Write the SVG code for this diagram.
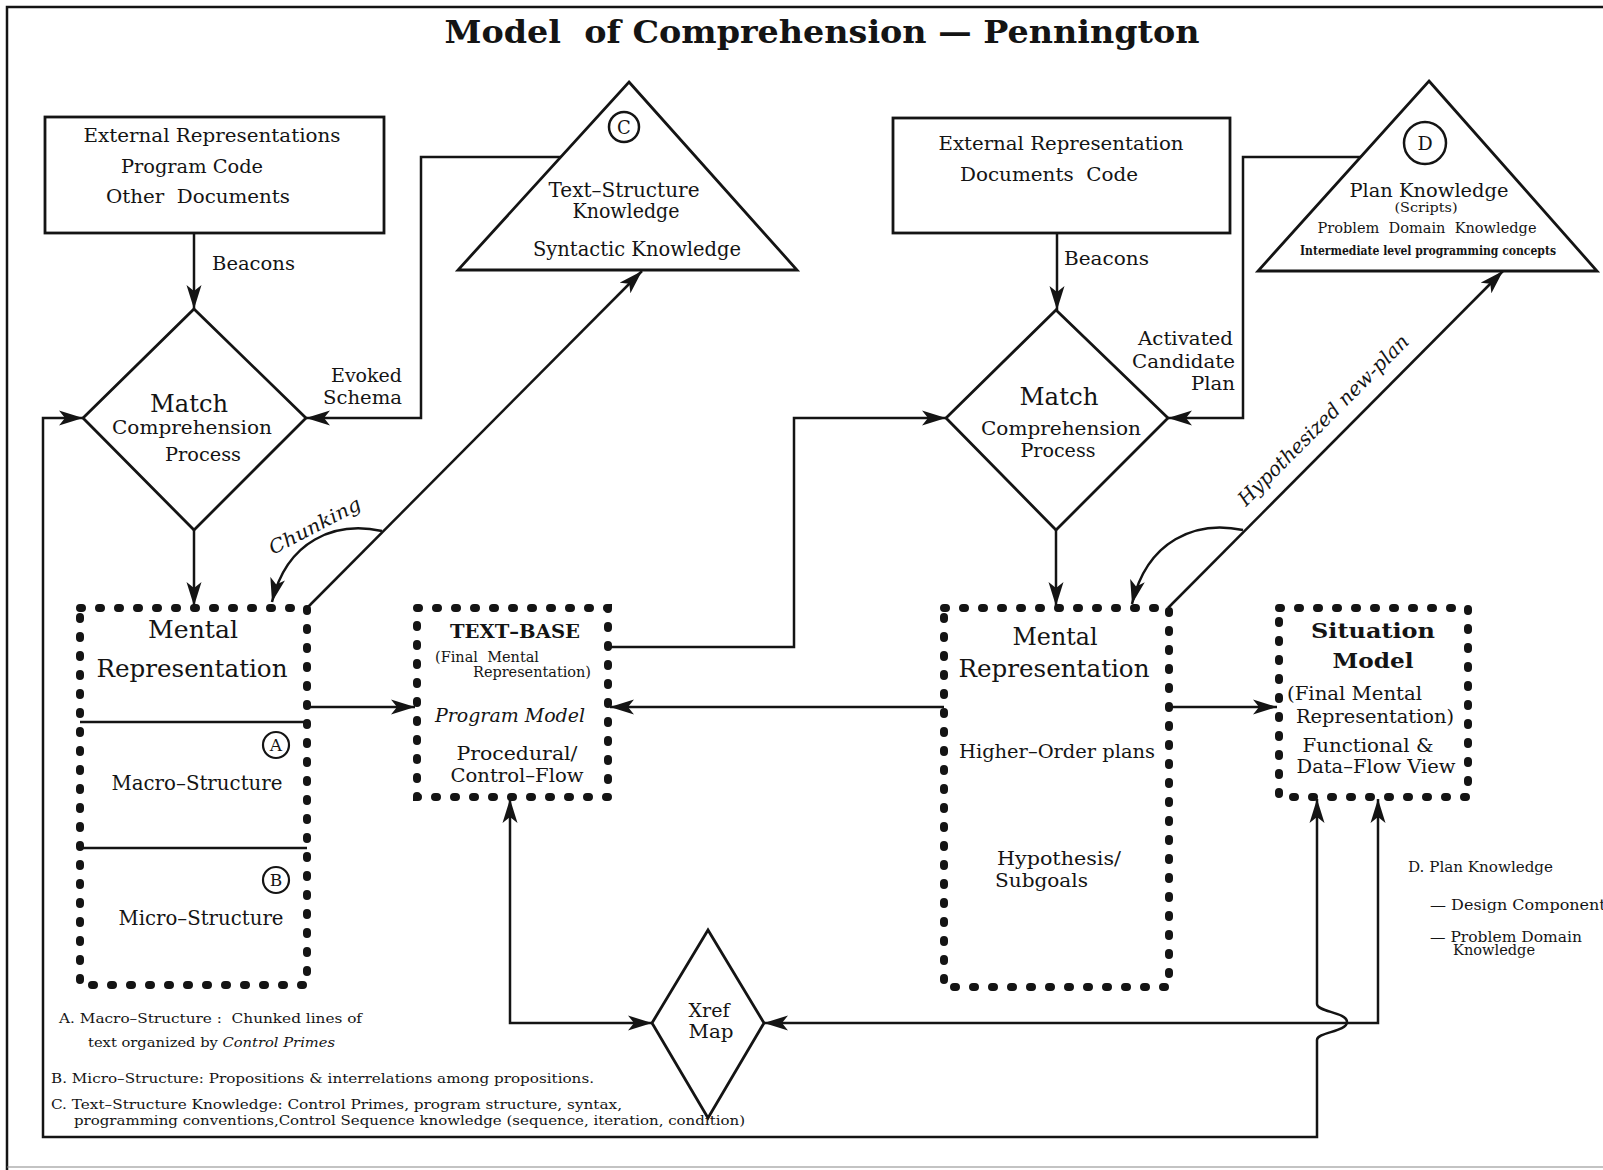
<svg xmlns="http://www.w3.org/2000/svg" width="1603" height="1170" viewBox="0 0 1603 1170">
<defs>
<style>
.t{font-family:"DejaVu Serif","Liberation Serif",serif;fill:#141414}
.m{text-anchor:middle}
.e{text-anchor:end}
.b{font-weight:bold}
.i{font-style:italic}
.ln{fill:none;stroke:#141414;stroke-width:2.5}
.box{fill:#fff;stroke:#141414;stroke-width:2.8}
.dot{fill:#fff;stroke:#141414;stroke-width:8;stroke-linecap:round;stroke-dasharray:2 17}
.sep{stroke:#141414;stroke-width:2.5}
.arw{marker-end:url(#ah)}
.arw2{marker-start:url(#ah);marker-end:url(#ah)}
</style>
<marker id="ah" markerUnits="userSpaceOnUse" markerWidth="26" markerHeight="16" refX="24" refY="8" orient="auto-start-reverse" viewBox="0 0 26 16">
<path d="M0,0.5 L24,8 L0,15.5 L6,8 Z" fill="#141414"/>
</marker>
</defs>

<rect x="0" y="0" width="1603" height="1170" fill="#fff"/>

<!-- page frame -->
<g id="frame" fill="none" stroke="#141414">
<path d="M1603 7 H7 V1170" stroke-width="2.5"/>
<path d="M7 1167 H1603" stroke-width="1.2" stroke="#888"/>
</g>

<text class="t b m" x="822" y="43" font-size="32" textLength="755" lengthAdjust="spacingAndGlyphs">Model&#160; of Comprehension — Pennington</text>

<!-- connectors -->
<g id="connectors">
<path class="ln arw" d="M194 233 V309"/>
<path class="ln arw" d="M1057 233 V310"/>
<path class="ln arw" d="M561 157 H421 V418 H306"/>
<path class="ln arw" d="M1361 157 H1243 V418 H1168"/>
<path class="ln arw" d="M194 530 V606"/>
<path class="ln arw" d="M1056 530 V606"/>
<path class="ln arw" d="M307 608 L642 271"/>
<path class="ln arw" d="M382 531 C335 521 287 540 272 602"/>
<path class="ln arw" d="M1168 608 L1503 271"/>
<path class="ln arw" d="M1243 530 C1196 520 1147 540 1132 604"/>
<path class="ln arw" d="M307 707 H415"/>
<path class="ln arw" d="M944 707 H610"/>
<path class="ln arw" d="M608 647 H794 V418 H946"/>
<path class="ln arw" d="M1169 707 H1277"/>
<path class="ln arw2" d="M652 1023 H510 V799"/>
<path class="ln arw2" d="M764 1023 H1378 V799"/>
<path class="ln arw2" d="M83 418 H43 V1137 H1317 V1040 C1317 1032 1347 1032 1347 1022 C1347 1012 1317 1012 1317 1004 V799"/>
</g>

<!-- connector labels -->
<g id="labels">
<text class="t" x="212" y="270" font-size="19" textLength="83" lengthAdjust="spacingAndGlyphs">Beacons</text>
<text class="t" x="1064" y="265" font-size="19" textLength="85" lengthAdjust="spacingAndGlyphs">Beacons</text>
<text class="t e" x="402" y="382" font-size="19" textLength="71" lengthAdjust="spacingAndGlyphs">Evoked</text>
<text class="t e" x="402" y="404" font-size="19" textLength="79" lengthAdjust="spacingAndGlyphs">Schema</text>
<text class="t e" x="1233" y="345" font-size="19" textLength="95" lengthAdjust="spacingAndGlyphs">Activated</text>
<text class="t e" x="1235" y="368" font-size="19" textLength="103" lengthAdjust="spacingAndGlyphs">Candidate</text>
<text class="t e" x="1235" y="390" font-size="19" textLength="44" lengthAdjust="spacingAndGlyphs">Plan</text>
<text class="t i" x="0" y="0" font-size="19" textLength="101" lengthAdjust="spacingAndGlyphs" transform="translate(273 555) rotate(-27.6)">Chunking</text>
<text class="t i" x="0" y="0" font-size="20" textLength="232" lengthAdjust="spacingAndGlyphs" transform="translate(1246 507) rotate(-45)">Hypothesized new-plan</text>
</g>

<g id="ext-left">
<rect class="box" x="45" y="117" width="339" height="116"/>
<text class="t m" x="212" y="142" font-size="19" textLength="257" lengthAdjust="spacingAndGlyphs">External Representations</text>
<text class="t m" x="192" y="173" font-size="19" textLength="142" lengthAdjust="spacingAndGlyphs">Program Code</text>
<text class="t m" x="198" y="203" font-size="19" textLength="184" lengthAdjust="spacingAndGlyphs">Other&#160; Documents</text>
</g>

<g id="text-structure-knowledge">
<polygon class="box" points="629,82 797,270 458,270"/>
<circle cx="624" cy="127" r="15" fill="none" stroke="#141414" stroke-width="2.5"/>
<text class="t m" x="624" y="134" font-size="18">C</text>
<text class="t m" x="624" y="197" font-size="20" textLength="151" lengthAdjust="spacingAndGlyphs">Text–Structure</text>
<text class="t m" x="626" y="218" font-size="20" textLength="107" lengthAdjust="spacingAndGlyphs">Knowledge</text>
<text class="t m" x="637" y="256" font-size="20" textLength="208" lengthAdjust="spacingAndGlyphs">Syntactic Knowledge</text>
</g>

<g id="ext-right">
<rect class="box" x="893" y="118" width="337" height="115"/>
<text class="t m" x="1061" y="150" font-size="19" textLength="245" lengthAdjust="spacingAndGlyphs">External Representation</text>
<text class="t m" x="1049" y="181" font-size="19" textLength="178" lengthAdjust="spacingAndGlyphs">Documents&#160; Code</text>
</g>

<g id="plan-knowledge">
<polygon class="box" points="1429,81 1597,271 1258,271"/>
<circle cx="1425" cy="143" r="21" fill="none" stroke="#141414" stroke-width="2.5"/>
<text class="t m" x="1425" y="150" font-size="19">D</text>
<text class="t m" x="1429" y="197" font-size="19" textLength="159" lengthAdjust="spacingAndGlyphs">Plan Knowledge</text>
<text class="t m" x="1426" y="212" font-size="13" textLength="63" lengthAdjust="spacingAndGlyphs">(Scripts)</text>
<text class="t m" x="1427" y="233" font-size="15" textLength="219" lengthAdjust="spacingAndGlyphs">Problem&#160; Domain&#160; Knowledge</text>
<text class="t b m" x="1428" y="255" font-size="12.5" textLength="256" lengthAdjust="spacingAndGlyphs">Intermediate level programming concepts</text>
</g>

<g id="match-left">
<polygon class="box" points="194,309 306,418 194,530 83,418"/>
<text class="t m" x="189" y="412" font-size="24" textLength="78" lengthAdjust="spacingAndGlyphs">Match</text>
<text class="t m" x="192" y="434" font-size="19" textLength="160" lengthAdjust="spacingAndGlyphs">Comprehension</text>
<text class="t m" x="203" y="461" font-size="19" textLength="76" lengthAdjust="spacingAndGlyphs">Process</text>
</g>

<g id="match-right">
<polygon class="box" points="1056,310 1168,418 1056,530 946,418"/>
<text class="t m" x="1059" y="405" font-size="24" textLength="79" lengthAdjust="spacingAndGlyphs">Match</text>
<text class="t m" x="1061" y="435" font-size="19" textLength="160" lengthAdjust="spacingAndGlyphs">Comprehension</text>
<text class="t m" x="1058" y="457" font-size="19" textLength="75" lengthAdjust="spacingAndGlyphs">Process</text>
</g>

<g id="mental-left">
<rect class="dot" x="80" y="608" width="227" height="377"/>
<line class="sep" x1="80" y1="722" x2="307" y2="722"/>
<line class="sep" x1="80" y1="848" x2="307" y2="848"/>
<text class="t m" x="193" y="638" font-size="24" textLength="90" lengthAdjust="spacingAndGlyphs">Mental</text>
<text class="t m" x="192" y="677" font-size="24" textLength="191" lengthAdjust="spacingAndGlyphs">Representation</text>
<circle cx="276" cy="745" r="13" fill="none" stroke="#141414" stroke-width="2.2"/>
<text class="t m" x="276" y="751" font-size="17">A</text>
<text class="t m" x="197" y="790" font-size="20" textLength="171" lengthAdjust="spacingAndGlyphs">Macro–Structure</text>
<circle cx="276" cy="880" r="13" fill="none" stroke="#141414" stroke-width="2.2"/>
<text class="t m" x="276" y="886" font-size="17">B</text>
<text class="t m" x="201" y="925" font-size="20" textLength="165" lengthAdjust="spacingAndGlyphs">Micro–Structure</text>
</g>

<g id="text-base">
<rect class="dot" x="417" y="608" width="191" height="189"/>
<text class="t b m" x="515" y="638" font-size="18" textLength="130" lengthAdjust="spacingAndGlyphs">TEXT–BASE</text>
<text class="t" x="435" y="662" font-size="14" textLength="104" lengthAdjust="spacingAndGlyphs">(Final&#160; Mental</text>
<text class="t e" x="591" y="677" font-size="14" textLength="118" lengthAdjust="spacingAndGlyphs">Representation)</text>
<text class="t i m" x="510" y="722" font-size="19" textLength="150" lengthAdjust="spacingAndGlyphs">Program Model</text>
<text class="t m" x="517" y="760" font-size="19" textLength="121" lengthAdjust="spacingAndGlyphs">Procedural/</text>
<text class="t m" x="517" y="782" font-size="19" textLength="133" lengthAdjust="spacingAndGlyphs">Control–Flow</text>
</g>

<g id="mental-right">
<rect class="dot" x="944" y="608" width="225" height="379"/>
<text class="t m" x="1055" y="645" font-size="24" textLength="85" lengthAdjust="spacingAndGlyphs">Mental</text>
<text class="t m" x="1054" y="677" font-size="24" textLength="191" lengthAdjust="spacingAndGlyphs">Representation</text>
<text class="t m" x="1057" y="758" font-size="18" textLength="196" lengthAdjust="spacingAndGlyphs">Higher–Order plans</text>
<text class="t" x="997" y="865" font-size="19" textLength="124" lengthAdjust="spacingAndGlyphs">Hypothesis/</text>
<text class="t" x="995" y="887" font-size="19" textLength="93" lengthAdjust="spacingAndGlyphs">Subgoals</text>
</g>

<g id="situation-model">
<rect class="dot" x="1279" y="608" width="189" height="189"/>
<text class="t b m" x="1373" y="638" font-size="21" textLength="124" lengthAdjust="spacingAndGlyphs">Situation</text>
<text class="t b m" x="1373" y="668" font-size="21" textLength="81" lengthAdjust="spacingAndGlyphs">Model</text>
<text class="t" x="1287" y="700" font-size="19" textLength="135" lengthAdjust="spacingAndGlyphs">(Final Mental</text>
<text class="t m" x="1375" y="723" font-size="19" textLength="158" lengthAdjust="spacingAndGlyphs">Representation)</text>
<text class="t m" x="1368" y="752" font-size="19" textLength="131" lengthAdjust="spacingAndGlyphs">Functional &amp;</text>
<text class="t m" x="1376" y="773" font-size="19" textLength="159" lengthAdjust="spacingAndGlyphs">Data–Flow View</text>
</g>

<g id="xref-map">
<polygon class="box" points="708,930 764,1023 708,1118 652,1023"/>
<text class="t m" x="709" y="1017" font-size="19" textLength="41" lengthAdjust="spacingAndGlyphs">Xref</text>
<text class="t m" x="711" y="1038" font-size="19" textLength="45" lengthAdjust="spacingAndGlyphs">Map</text>
</g>

<!-- notes -->
<g id="notes">
<text class="t" x="59" y="1023" font-size="13" textLength="303" lengthAdjust="spacingAndGlyphs">A. Macro–Structure :&#160; Chunked lines of</text>
<text class="t" x="88" y="1047" font-size="13" textLength="247" lengthAdjust="spacingAndGlyphs">text organized by <tspan class="i">Control Primes</tspan></text>
<text class="t" x="51" y="1083" font-size="13" textLength="543" lengthAdjust="spacingAndGlyphs">B. Micro–Structure: Propositions &amp; interrelations among propositions.</text>
<text class="t" x="51" y="1109" font-size="13" textLength="571" lengthAdjust="spacingAndGlyphs">C. Text–Structure Knowledge: Control Primes, program structure, syntax,</text>
<text class="t" x="74" y="1125" font-size="13" textLength="671" lengthAdjust="spacingAndGlyphs">programming conventions,Control Sequence knowledge (sequence, iteration, condition)</text>
<text class="t" x="1408" y="872" font-size="14" textLength="145" lengthAdjust="spacingAndGlyphs">D. Plan Knowledge</text>
<text class="t" x="1430" y="910" font-size="14" textLength="184" lengthAdjust="spacingAndGlyphs">— Design Components</text>
<text class="t" x="1430" y="942" font-size="14" textLength="152" lengthAdjust="spacingAndGlyphs">— Problem Domain</text>
<text class="t" x="1453" y="955" font-size="14" textLength="82" lengthAdjust="spacingAndGlyphs">Knowledge</text>
</g>
</svg>
